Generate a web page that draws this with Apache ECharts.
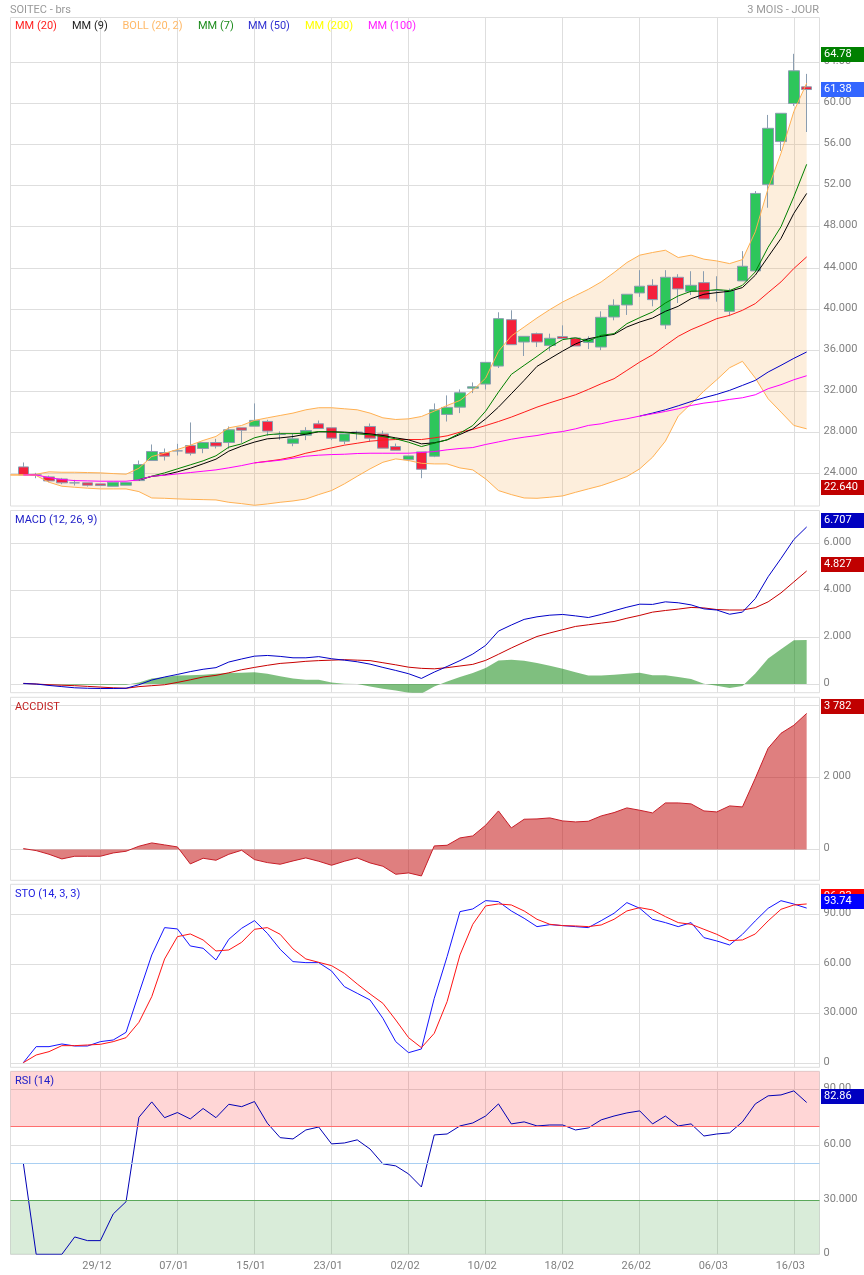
<!DOCTYPE html>
<html>
<head>
<meta charset="utf-8">
<style>html,body{margin:0;padding:0;background:#fff}#c{width:864px;height:1275px}</style>
<script src="https://cdn.jsdelivr.net/npm/echarts@6/dist/echarts.min.js"></script>
</head>
<body>
<div id="c"></div>
<script>
const dates = ['18/12','19/12','22/12','23/12','24/12','26/12','29/12','30/12','31/12','02/01','05/01','06/01','07/01','08/01','09/01','12/01','13/01','14/01','15/01','16/01','19/01','20/01','21/01','22/01','23/01','26/01','27/01','28/01','29/01','30/01','02/02','03/02','04/02','05/02','06/02','09/02','10/02','11/02','12/02','13/02','16/02','17/02','18/02','19/02','20/02','23/02','24/02','25/02','26/02','27/02','02/03','03/03','04/03','05/03','06/03','09/03','10/03','11/03','12/03','13/03','16/03','17/03'];
const opens = [24.65,23.87,23.68,23.48,23.1,23.1,23.0,22.77,22.87,23.32,25.27,26.05,26.21,26.73,26.44,27.02,27.02,28.45,28.61,29.07,27.8,26.94,27.73,28.84,28.45,27.15,28.0,28.58,27.86,26.63,25.36,26.11,25.69,29.75,30.46,32.3,32.7,34.45,38.96,36.79,37.6,36.46,37.31,37.18,36.75,36.3,39.22,40.39,41.56,42.3,38.44,43.08,41.69,42.56,41.8,39.77,42.73,43.7,52.11,56.27,59.97,61.59];
const closes = [23.87,23.87,23.29,23.1,23.1,22.87,22.84,23.16,23.13,24.88,26.15,25.69,26.21,25.98,27.02,26.67,28.26,28.22,29.17,28.13,27.8,27.38,28.19,28.38,27.44,27.86,28.03,27.44,26.47,26.27,25.72,24.42,30.2,30.43,31.86,32.44,34.81,39.06,36.53,37.34,36.79,37.15,37.13,36.4,37.08,39.19,40.36,41.43,42.21,40.91,43.08,41.95,42.3,40.97,41.8,41.79,44.15,51.23,57.56,59.02,63.15,61.33];
const lows = [23.87,23.55,23.16,22.97,22.84,22.74,22.84,22.77,22.87,23.32,25.27,25.27,25.76,25.76,25.98,26.44,26.41,26.99,28.61,27.67,27.28,26.66,27.25,28.38,27.25,26.86,27.31,27.08,26.47,26.27,25.2,23.55,25.6,29.06,29.88,31.82,32.18,34.26,36.53,35.43,36.3,35.9,37.13,36.4,36.1,36.0,38.9,39.42,41.17,40.26,38.05,40.58,41.36,40.97,40.71,39.3,42.73,43.7,49.84,55.36,59.74,57.2];
const highs = [25.08,24.07,23.8,23.58,23.39,23.1,23.0,23.16,23.16,25.27,26.83,26.44,26.89,28.97,27.02,27.38,28.58,28.45,30.82,29.23,28.1,27.87,28.51,29.16,28.45,27.86,28.16,28.87,28.16,26.92,25.72,26.11,30.82,31.6,32.18,32.86,34.81,39.68,39.87,37.34,37.7,37.6,38.41,37.18,37.34,39.77,40.94,41.43,43.77,42.89,43.77,43.38,43.67,43.67,43.18,41.98,45.62,51.46,58.86,59.02,64.8,62.85];
const bollUpper = [23.87,23.87,23.94,24.17,24.13,24.13,24.1,24.07,24.0,23.94,24.52,25.66,25.98,26.34,26.76,27.22,27.61,28.45,28.68,29.17,29.42,29.65,29.88,30.2,30.4,30.4,30.3,30.2,29.88,29.42,29.26,29.32,29.55,30.07,30.62,31.11,32.08,33.28,35.88,37.37,38.25,39.13,39.94,40.68,41.3,41.91,42.63,43.54,44.51,45.23,45.49,45.71,45.0,45.23,44.84,44.67,44.41,44.8,47.5,51.72,55.13,59.19,61.95];
const bollLower = [23.87,23.87,23.81,23.16,22.77,22.67,22.58,22.51,22.51,22.51,22.25,21.63,21.6,21.54,21.5,21.47,21.44,21.21,21.08,20.92,21.05,21.21,21.34,21.53,21.96,22.35,23.0,23.74,24.46,25.1,25.43,25.27,25.0,24.94,24.94,24.55,24.36,23.48,22.35,21.96,21.63,21.6,21.7,21.83,22.18,22.51,22.83,23.26,23.71,24.46,25.59,27.15,29.59,30.79,32.02,33.12,34.29,34.91,33.29,31.27,29.98,28.68,28.35];
const ma100 = [23.87,23.87,23.61,23.42,23.32,23.29,23.26,23.26,23.26,23.39,23.74,23.84,23.97,24.1,24.23,24.36,24.56,24.78,25.04,25.17,25.3,25.49,25.69,25.79,25.85,25.88,25.95,25.98,25.98,25.98,25.98,26.05,26.14,26.31,26.44,26.53,26.83,27.08,27.34,27.54,27.7,27.93,28.09,28.35,28.68,28.84,29.13,29.33,29.59,29.81,30.04,30.3,30.62,30.85,31.0,31.21,31.37,31.66,32.25,32.64,33.12,33.51];
const ma50 = [null,null,null,null,null,null,null,null,null,null,null,null,null,null,null,null,null,null,null,null,null,null,null,null,null,null,null,null,null,null,null,null,null,null,null,null,null,null,null,null,null,null,null,null,null,null,null,null,29.59,29.88,30.2,30.59,31.0,31.37,31.7,32.09,32.57,33.06,33.87,34.52,35.2,35.82];
const ma20 = [null,null,null,null,null,null,null,null,null,null,null,null,null,null,null,null,null,null,25.04,25.2,25.37,25.62,25.98,26.24,26.5,26.76,26.95,27.15,27.25,27.31,27.31,27.31,27.47,27.67,28.03,28.29,28.67,29.06,29.49,29.97,30.46,30.88,31.27,31.66,32.18,32.73,33.22,34.03,34.84,35.55,36.46,37.34,37.99,38.51,39.06,39.38,39.87,40.52,41.59,42.63,43.93,45.06];
const ma9 = [null,null,null,null,null,null,null,null,null,23.39,23.72,23.87,24.17,24.52,24.95,25.4,26.18,26.67,27.06,27.38,27.47,27.6,27.83,28.06,28.06,28.03,27.96,27.86,27.7,27.47,27.28,26.89,26.99,27.28,27.8,28.35,29.32,30.46,31.76,33.06,34.42,35.17,35.91,36.6,37.11,37.34,37.53,38.25,38.73,39.12,39.77,40.26,41.0,41.43,41.59,41.72,42.08,43.28,45.07,46.85,49.29,51.23];
const ma7 = [null,null,null,null,null,null,null,null,null,23.39,23.75,24.07,24.46,24.85,25.24,25.73,26.57,26.89,27.48,27.77,27.88,27.88,27.93,28.09,28.06,27.99,27.86,27.77,27.6,27.38,27.05,26.63,26.95,27.28,27.93,28.67,30.07,31.92,33.64,34.52,35.39,36.3,37.02,37.2,36.88,37.44,37.6,38.57,39.16,39.71,40.58,41.27,41.72,41.75,41.88,41.79,42.3,43.6,46.0,47.99,50.91,54.06];
const macdLine = [.02,0,-.06,-.11,-.16,-.18,-.19,-.19,-.18,-.03,.17,.3,.41,.53,.63,.7,.94,1.07,1.19,1.22,1.18,1.12,1.12,1.17,1.08,1.02,.95,.85,.71,.58,.44,.24,.51,.75,1.0,1.28,1.65,2.26,2.52,2.76,2.87,2.94,2.97,2.91,2.84,2.97,3.13,3.28,3.41,3.4,3.51,3.47,3.38,3.21,3.16,2.98,3.07,3.65,4.58,5.36,6.17,6.707];
const macdSignal = [.03,0,-.03,-.05,-.07,-.1,-.13,-.16,-.18,-.11,-.07,-.03,.07,.18,.3,.37,.48,.61,.71,.8,.88,.92,.97,1.0,1.02,1.04,1.02,1.0,.91,.82,.72,.67,.65,.7,.77,.84,1.01,1.27,1.54,1.79,2.03,2.18,2.32,2.46,2.53,2.6,2.67,2.81,2.93,3.07,3.14,3.2,3.27,3.25,3.18,3.16,3.16,3.26,3.51,3.89,4.36,4.827];
const macdHist = [0,0,-.01,-.02,-.03,-.03,-.03,-.03,-.03,.07,.24,.3,.36,.37,.4,.44,.47,.48,.5,.44,.33,.24,.18,.18,.07,.01,0,-.11,-.2,-.28,-.37,-.41,-.1,.11,.3,.47,.68,1.01,1.04,.99,.9,.78,.65,.5,.36,.36,.4,.44,.48,.38,.38,.3,.21,.01,-.07,-.17,-.08,.45,1.09,1.49,1.87,1.88];
const accDist = [28,-28,-130,-259,-185,-185,-185,-93,-46,93,185,130,74,-398,-241,-296,-130,-19,-278,-361,-407,-315,-231,-324,-435,-324,-231,-370,-463,-685,-648,-732,102,120,324,380,676,1074,602,843,852,880,796,769,787,935,1028,1158,1093,1019,1296,1296,1269,1074,1046,1213,1185,1980,2814,3230,3453,3782];
const stoK = [.4,10.07,10.07,11.68,10.47,10.47,13.09,14.09,18.72,42.28,65.43,81.94,81.14,70.87,69.46,62.41,74.89,81.54,86.17,78.52,68.85,61.41,60.8,60.8,55.77,46.31,42.28,38.25,27.18,13.09,6.44,8.66,39.26,64.43,91.6,93.21,98.25,97.64,92.0,87.58,82.54,83.75,83.15,82.54,81.94,86.17,90.6,97.04,93.62,86.97,84.96,82.54,84.96,75.9,73.89,71.47,77.9,86.0,93.6,98.2,96.2,93.74];
const stoD = [.4,5.03,7.05,10.67,10.67,11.07,11.48,13.09,15.5,24.76,40.27,63.02,76.5,78.12,74.49,67.85,68.45,73.08,80.93,81.94,77.91,69.06,63.02,61.0,58.99,54.36,47.92,41.88,36.24,26.17,15.5,9.46,18.12,37.25,65.43,83.95,95.03,96.24,95.63,92.0,86.97,83.95,83.15,82.95,82.54,83.55,86.97,92.0,94.02,92.61,88.59,84.96,83.95,80.93,77.91,74.1,74.5,78.1,86.0,93.0,95.6,96.23];
const rsi = [50,0.8,0.8,0.8,10.17,8.19,8.19,22.6,29.25,74.84,83.16,74.64,77.41,73.95,79.59,74.64,81.87,80.59,83.36,71.67,63.84,63.14,68.0,69.59,60.47,60.96,62.65,57.69,49.67,48.58,44.22,37.18,65.32,65.82,70.18,71.77,75.53,82.07,71.27,72.36,70.18,70.68,70.68,68,69.09,73.45,75.53,77.2,78.31,71.27,75.53,70.18,71.27,64.73,65.82,66.41,72.36,82.07,86.43,86.93,89.11,82.86];

const mainTicks = [64,60,56,52,48,44,40,36,32,28,24];
const mainTickLabels = ['64.00','60.00','56.00','52.00','48.000','44.000','40.000','36.000','32.000','28.000','24.000'];
const macdTicks = [6,4,2,0];
const macdTickLabels = ['6.000','4.000','2.000','0'];
const accTicks = [4000,2000,0];
const accTickLabels = ['','2 000','0'];
const stoTicks = [90,60,30,0];
const stoTickLabels = ['90.00','60.00','30.000','0'];
const rsiTicks = [90,60,30,0.8];
const rsiTickLabels = ['90.00','60.00','30.000','0'];

const FONT = 'Roboto';
const FS = 11;
const GRID = '#dedede';
const pad = a => [null, ...a, null];
const categories = ['', ...dates, ''];
const isTick = i => i > 1 && (i - 1) % 6 === 0;

const panels = [
  {top: 17.5, h: 488.5, min: 20.85, max: 68.33, ticks: mainTicks, labels: mainTickLabels},
  {top: 510.5, h: 182.2, min: -0.37, max: 7.41, ticks: macdTicks, labels: macdTickLabels},
  {top: 697.3, h: 183, min: -853, max: 4230, ticks: accTicks, labels: accTickLabels},
  {top: 884.3, h: 183, min: -2.4, max: 108.1, ticks: stoTicks, labels: stoTickLabels},
  {top: 1071.3, h: 183, min: 0.8, max: 99.7, ticks: rsiTicks, labels: rsiTickLabels}
];

const grids = panels.map(p => ({
  left: 10.5, width: 809, top: p.top, height: p.h, show: true,
  borderColor: GRID, borderWidth: 1, backgroundColor: 'transparent'
}));
const xAxes = panels.map((p, k) => ({
  type: 'category', gridIndex: k, data: categories, boundaryGap: false,
  axisLine: {show: false}, axisTick: {show: false},
  axisLabel: {show: k === 4, interval: (i) => isTick(i), margin: 6,
    color: '#808080', fontFamily: FONT, fontSize: FS, padding: [0, 7, 0, 0]},
  splitLine: {show: true, interval: (i) => isTick(i), lineStyle: {color: GRID, width: 1}}
}));
const yAxes = panels.map((p, k) => ({
  type: 'value', gridIndex: k, position: 'right', min: p.min, max: p.max,
  axisLine: {show: false},
  axisTick: {show: false, customValues: p.ticks},
  axisLabel: {customValues: p.ticks, margin: 4, color: '#808080', fontFamily: FONT, fontSize: FS,
    verticalAlign: 'bottom', lineHeight: 2, showMinLabel: true, showMaxLabel: true,
    formatter: v => p.labels[p.ticks.indexOf(v)] ?? ''},
  splitLine: {show: true, customValues: p.ticks, lineStyle: {color: GRID, width: 1}}
}));

const line = (name, data, color, k, extra) => Object.assign({
  name, type: 'line', data: pad(data), xAxisIndex: k, yAxisIndex: k, showSymbol: false, symbol: 'none',
  connectNulls: false, lineStyle: {color, width: 1}, itemStyle: {color}, silent: true
}, extra || {});

const series = [
  {name: 'Cours', type: 'candlestick', xAxisIndex: 0, yAxisIndex: 0, barWidth: 11, silent: true,
   data: [[null, null, null, null], ...opens.map((o, i) => [o, closes[i], lows[i], highs[i]])],
   itemStyle: {color: '#2dc65b', color0: '#f5203c', borderColor: '#8a9db0', borderColor0: '#8a9db0', borderColorDoji: '#8a9db0', borderWidth: 1}},
  {name: 'BOLL fond', type: 'custom', xAxisIndex: 0, yAxisIndex: 0, silent: true,
   data: bollUpper.map((u, i) => [i, u, bollLower[i]]),
   encode: {x: 0, y: [1, 2]},
   renderItem: (params, api) => {
     if (params.dataIndex !== 0) return null;
     const up = bollUpper.map((v, i) => api.coord([i, v]));
     const lo = bollLower.map((v, i) => api.coord([i, v])).reverse();
     return {type: 'polygon', shape: {points: up.concat(lo)}, style: {fill: 'rgba(245,160,60,0.18)', stroke: null}};
   },
   clip: true},
  line('MM (20)', ma20, '#ff1a1a', 0),
  line('MM (9)', ma9, '#000000', 0),
  {name: 'BOLL haut', type: 'line', data: bollUpper, xAxisIndex: 0, yAxisIndex: 0, symbol: 'none', silent: true, lineStyle: {color: '#ffb052', width: 1}},
  {name: 'BOLL bas', type: 'line', data: bollLower, xAxisIndex: 0, yAxisIndex: 0, symbol: 'none', silent: true, lineStyle: {color: '#ffb052', width: 1}},
  line('MM (7)', ma7, '#008000', 0),
  line('MM (50)', ma50, '#0000c8', 0),
  line('MM (100)', ma100, '#ff00ff', 0),

  line('MACD hist', macdHist, 'rgba(0,128,0,0.5)', 1, {lineStyle: {width: 0, opacity: 0}, areaStyle: {color: 'rgba(0,128,0,0.5)', opacity: 1, origin: 'auto'}}),
  line('MACD signal', macdSignal, '#c80000', 1),
  line('MACD', macdLine, '#0000c8', 1),

  line('ACCDIST', accDist, '#c81e28', 2, {areaStyle: {color: 'rgba(192,0,0,0.5)', opacity: 1, origin: 'auto'}}),

  line('STO K', stoK, '#1414ff', 3),
  line('STO D', stoD, '#ff1414', 3),

  line('RSI', rsi, '#0000b4', 4, {
    markArea: {silent: true, itemStyle: {opacity: 1}, data: [
      [{yAxis: 70, itemStyle: {color: 'rgba(255,0,0,0.16)'}}, {yAxis: 99.7}],
      [{yAxis: 0.8, itemStyle: {color: 'rgba(0,128,0,0.15)'}}, {yAxis: 30}]
    ]},
    markLine: {silent: true, symbol: 'none', label: {show: false}, animation: false, data: [
      {yAxis: 70, lineStyle: {color: '#ff6e6e', width: 1, type: 'solid'}},
      {yAxis: 50, lineStyle: {color: '#a9cff2', width: 1, type: 'solid'}},
      {yAxis: 30, lineStyle: {color: '#5aa85a', width: 1, type: 'solid'}}
    ]}
  })
];

const titleStyle = color => ({color, fontFamily: FONT, fontSize: FS, fontWeight: 'normal', lineHeight: 14});
const txt = (text, left, top, color) => ({text, left, top, padding: 0, textStyle: titleStyle(color)});
const titles = [
  txt('SOITEC - brs', 10, 3, '#999999'),
  {text: '3 MOIS - JOUR', right: 45, top: 3, padding: 0, textStyle: titleStyle('#999999')},
  txt('MM (20)', 15, 19, '#ff2020'),
  txt('MM (9)', 72, 19, '#222222'),
  txt('BOLL (20, 2)', 122.5, 19, '#ffb866'),
  txt('MM (7)', 198, 19, '#1e8c1e'),
  txt('MM (50)', 248, 19, '#3030d0'),
  txt('MM (200)', 305, 19, '#ffff00'),
  txt('MM (100)', 368, 19, '#ff20ff'),
  txt('MACD (12, 26, 9)', 15, 513, '#2020c8'),
  txt('ACCDIST', 15, 700, '#c02020'),
  txt('STO (14, 3, 3)', 15, 887, '#2020e0'),
  txt('RSI (14)', 15, 1074, '#2020c8')
];

const chart = echarts.init(document.getElementById('c'), null, {renderer: 'canvas'});
chart.setOption({animation: false, backgroundColor: '#fff', title: titles, grid: grids, xAxis: xAxes, yAxis: yAxes, series, tooltip: {show: false}});

const badgeValues = [
  {k: 0, v: 64.78, t: '64.78', c: '#008000', dy: 0},
  {k: 0, v: 61.38, t: '61.38', c: '#3366ff', dy: 0},
  {k: 0, v: 22.64, t: '22.640', c: '#c00000', dy: 0},
  {k: 1, v: 6.707, t: '6.707', c: '#0000c0', dy: -6.5},
  {k: 1, v: 4.827, t: '4.827', c: '#c00000', dy: -6.5},
  {k: 2, v: 3782, t: '3 782', c: '#c00000', dy: -6.5},
  {k: 3, v: 96.23, t: '96.23', c: '#ff0000', dy: -7},
  {k: 3, v: 93.74, t: '93.74', c: '#0000ff', dy: -7},
  {k: 4, v: 82.86, t: '82.86', c: '#0000c0', dy: -6}
];
chart.setOption({graphic: badgeValues.map((b, n) => {
  const y = chart.convertToPixel({yAxisIndex: b.k}, b.v) + b.dy;
  return {type: 'group', silent: true, x: 821, y: Math.round(y - 7.5), children: [
    {type: 'rect', z: 100 + 2 * n, zlevel: 1, shape: {x: 0, y: 0, width: 43, height: 15}, style: {fill: b.c}},
    {type: 'text', z: 101 + 2 * n, zlevel: 1, x: 3, y: 2, style: {text: b.t, fill: '#fff', font: '11px Roboto'}}
  ]};
})});
</script>
</body>
</html>
